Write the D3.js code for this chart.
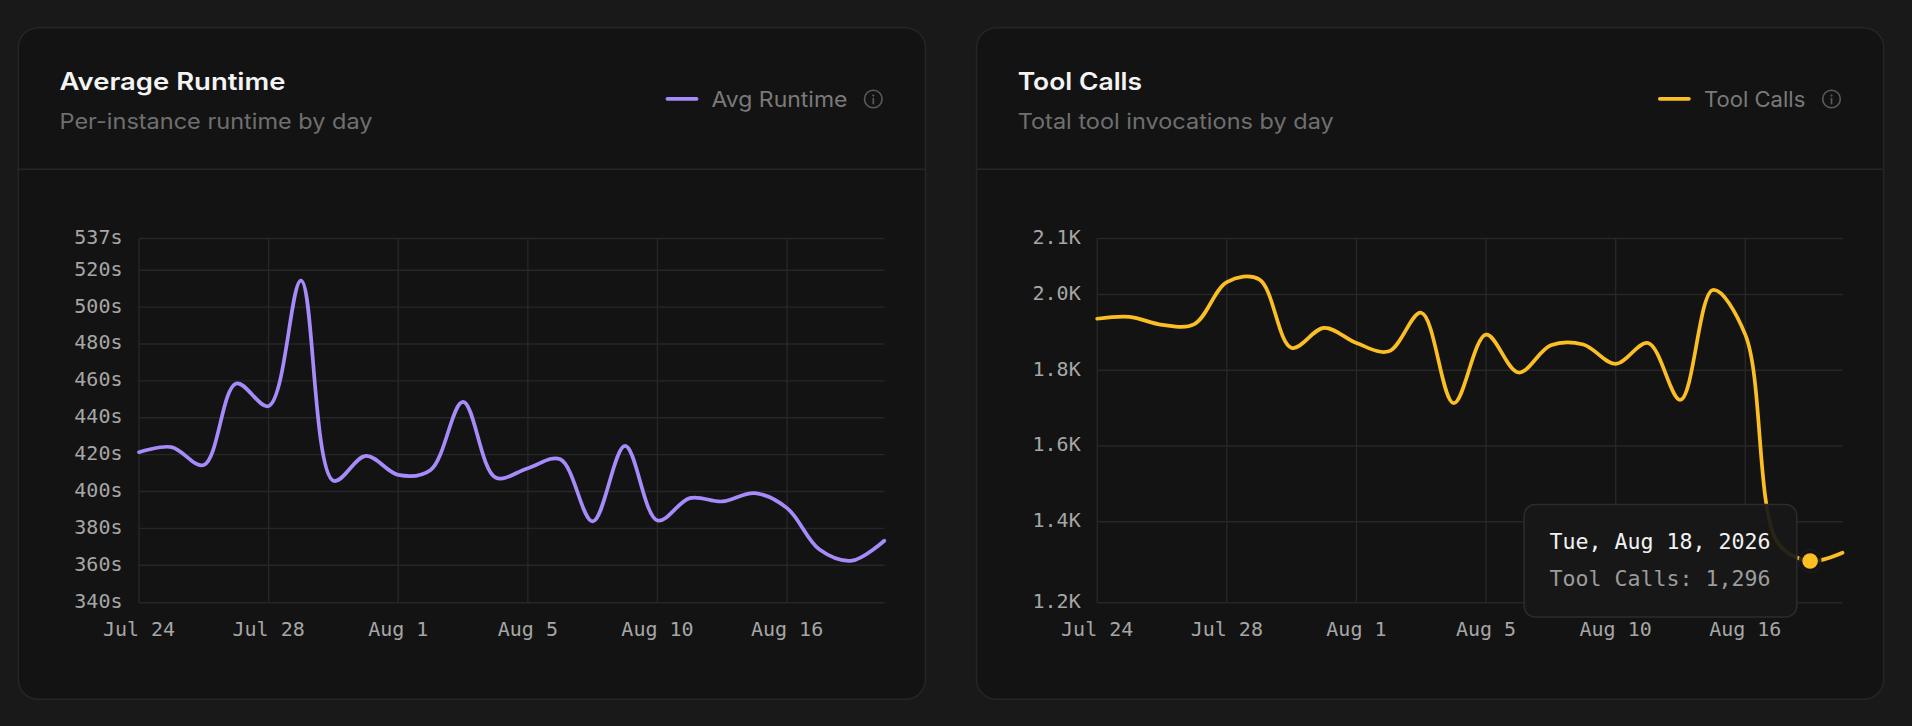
<!DOCTYPE html>
<html><head><meta charset="utf-8">
<script src="https://cdn.jsdelivr.net/npm/d3@7"></script>
<style>
html,body{margin:0;padding:0;background:#191919;overflow:hidden;}
svg{display:block;}
</style></head><body>
<svg id="chart" width="1912" height="726"></svg>
<script>
// ---- data ----
const dates = ["2026-07-24","2026-07-25","2026-07-26","2026-07-27","2026-07-28","2026-07-29","2026-07-30","2026-07-31",
  "2026-08-01","2026-08-02","2026-08-03","2026-08-04","2026-08-05","2026-08-06","2026-08-07","2026-08-08",
  "2026-08-10","2026-08-11","2026-08-12","2026-08-13","2026-08-16","2026-08-17","2026-08-18","2026-08-19"];
const runtimeValues = [421.3, 424.1, 414.4, 458.6, 446.3, 514.4, 405.8, 419.3, 409.0, 411.7, 448.6, 407.6,
  412.6, 417.5, 383.8, 424.7, 384.3, 396.4, 394.6, 399.1, 391.0, 368.5, 362.5, 373.3];
const toolCallValues = [1936, 1941, 1920, 1922, 2033, 2040, 1859, 1912, 1872, 1850, 1952, 1713,
  1894, 1794, 1866, 1868, 1817, 1872, 1722, 2012, 1894, 1345, 1296, 1318];
const runtimeDomain = [339.7, 537.2];
const runtimeTicks = [339.7, 360, 380, 400, 420, 440, 460, 480, 500, 520, 537.2];
const toolCallDomain = [1186, 2148];
const toolCallTicks = [1186, 1400, 1600, 1800, 2000, 2148];
const xTickIndexes = [0, 4, 8, 12, 16, 20];
const hoverIndex = 22;

const parse = d3.timeParse("%Y-%m-%d");
const dayObjs = dates.map(parse);
const fmtTick = d3.timeFormat("%b %-d");
const fmtTip = d3.timeFormat("%a, %b %-d, %Y");

const SANS = "Inter, 'Noto Sans', sans-serif";
const MONO = "'DejaVu Sans Mono', monospace";

const svg = d3.select("#chart");
svg.append("rect").attr("width",1912).attr("height",726).attr("fill","#191919");

const cards = [
  {x:18.3, title:"Average Runtime", titleW:226, sub:"Per-instance runtime by day", subW:313,
   legend:"Avg Runtime", legendW:136, legendX:666, color:"#a78bfa",
   values:runtimeValues, domain:runtimeDomain, ticks:runtimeTicks, fmt:v=>Math.round(v)+"s", tooltip:false},
  {x:976.5, title:"Tool Calls", titleW:124.4, sub:"Total tool invocations by day", subW:316,
   legend:"Tool Calls", legendW:101.4, legendX:1658.4, color:"#fbbf24",
   values:toolCallValues, domain:toolCallDomain, ticks:toolCallTicks, fmt:v=>d3.format(".1f")(v/1000)+"K", tooltip:true,
   seriesName:"Tool Calls"}
];

const cardW = 907.2, cardTop = 27.7, cardBottom = 699.3, headerY = 169.3;
const plotTop = 238.5, plotBottom = 602.7;

cards.forEach(c => {
  const g = svg.append("g");
  g.append("rect").attr("x",c.x).attr("y",cardTop).attr("width",cardW).attr("height",cardBottom-cardTop)
    .attr("rx",20).attr("fill","#131313").attr("stroke","#262626").attr("stroke-width",1.5);
  g.append("line").attr("x1",c.x).attr("x2",c.x+cardW).attr("y1",headerY).attr("y2",headerY)
    .attr("stroke","#262626").attr("stroke-width",1.5);

  g.append("text").attr("x",c.x+41.2).attr("y",89.5).text(c.title)
    .attr("font-family",SANS).attr("font-weight",600).attr("font-size",24).attr("fill","#f4f4f4")
    .attr("textLength",c.titleW).attr("lengthAdjust","spacingAndGlyphs");
  g.append("text").attr("x",c.x+41.2).attr("y",128.5).text(c.sub)
    .attr("font-family",SANS).attr("font-weight",400).attr("font-size",21).attr("fill","#6f6f6f")
    .attr("textLength",c.subW).attr("lengthAdjust","spacingAndGlyphs");

  // legend
  g.append("line").attr("x1",c.legendX+1.5).attr("x2",c.legendX+30.5).attr("y1",98.8).attr("y2",98.8)
    .attr("stroke",c.color).attr("stroke-width",3.8).attr("stroke-linecap","round");
  g.append("text").attr("x",c.legendX+45.5).attr("y",106.5).text(c.legend)
    .attr("font-family",SANS).attr("font-size",21).attr("fill","#7a7a7a")
    .attr("textLength",c.legendW).attr("lengthAdjust","spacingAndGlyphs");
  const icx = c.x + 855, icy = 99;
  g.append("circle").attr("cx",icx).attr("cy",icy).attr("r",8.8).attr("fill","none")
    .attr("stroke","#5a5a5a").attr("stroke-width",1.6);
  g.append("circle").attr("cx",icx).attr("cy",icy-3.4).attr("r",1.15).attr("fill","#5a5a5a");
  g.append("line").attr("x1",icx).attr("x2",icx).attr("y1",icy-0.5).attr("y2",icy+4.6)
    .attr("stroke","#5a5a5a").attr("stroke-width",1.7).attr("stroke-linecap","round");

  // scales
  const left = c.x + 120.7, right = c.x + 866;
  const x = d3.scalePoint().domain(d3.range(dates.length)).range([left,right]).padding(0);
  const y = d3.scaleLinear().domain(c.domain).range([plotBottom, plotTop]);

  // grid
  g.append("g").selectAll("line").data(c.ticks).join("line")
    .attr("x1",left).attr("x2",right).attr("y1",d=>y(d)).attr("y2",d=>y(d))
    .attr("stroke","#272727").attr("stroke-width",1.4);
  g.append("g").selectAll("line").data(xTickIndexes).join("line")
    .attr("x1",d=>x(d)).attr("x2",d=>x(d)).attr("y1",plotTop).attr("y2",plotBottom)
    .attr("stroke","#272727").attr("stroke-width",1.4);

  // axis labels
  g.append("g").selectAll("text").data(c.ticks).join("text")
    .attr("x",left-16.5).attr("y",d=>y(d)+5.5).attr("text-anchor","end").text(c.fmt)
    .attr("font-family",MONO).attr("font-size",20).attr("fill","#a6a6a6");
  g.append("g").selectAll("text").data(xTickIndexes).join("text")
    .attr("x",d=>x(d)).attr("y",636).attr("text-anchor","middle").text(d=>fmtTick(dayObjs[d]))
    .attr("font-family",MONO).attr("font-size",20).attr("fill","#a6a6a6");

  // line
  const line = d3.line().x((d,i)=>x(i)).y(d=>y(d)).curve(d3.curveCatmullRom.alpha(0.5));
  g.append("path").datum(c.values).attr("d",line).attr("fill","none")
    .attr("stroke",c.color).attr("stroke-width",3.7).attr("stroke-linejoin","round").attr("stroke-linecap","round");

  if (c.tooltip) {
    const hx = x(hoverIndex), hy = y(c.values[hoverIndex]);
    const tx = hx - 286, ty = hy - 56.5;
    g.append("rect").attr("x",tx).attr("y",ty).attr("width",272.7).attr("height",112.4).attr("rx",11)
      .attr("fill","rgba(24,24,24,0.93)").attr("stroke","#2c2c2c").attr("stroke-width",1.5);
    g.append("text").attr("x",tx+25.3).attr("y",ty+44).text(fmtTip(dayObjs[hoverIndex]))
      .attr("font-family",MONO).attr("font-size",21.6).attr("fill","#f2f2f2");
    g.append("text").attr("x",tx+25.3).attr("y",ty+81.7).text(c.seriesName+": "+d3.format(",")(c.values[hoverIndex]))
      .attr("font-family",MONO).attr("font-size",21.6).attr("fill","#9c9c9c");
    g.append("circle").attr("cx",hx).attr("cy",hy).attr("r",11.5).attr("fill","rgba(19,19,19,0.88)")
      .attr("stroke","rgba(255,255,255,0.05)").attr("stroke-width",1);
    g.append("circle").attr("cx",hx).attr("cy",hy).attr("r",7.8).attr("fill",c.color);
  }
});
</script>
</body></html>
